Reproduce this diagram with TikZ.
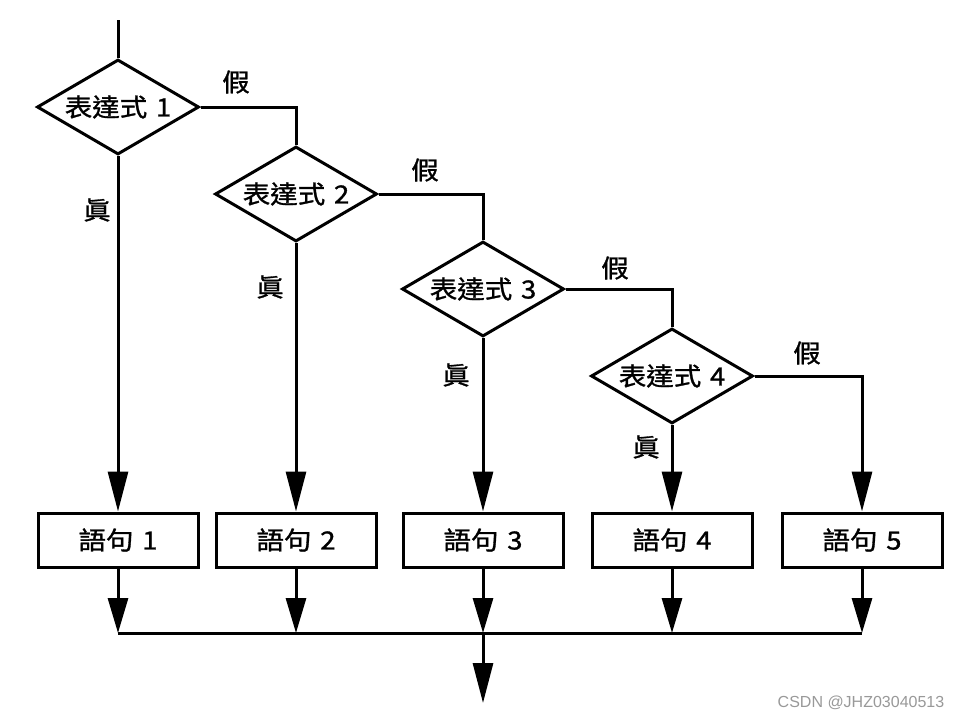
\documentclass[tikz,border=0pt]{standalone}
\usepackage{fontspec}
\setmainfont{Liberation Sans}
\newfontfamily\cjk[FakeStretch=1.1,FakeBold=1.2]{Noto Sans CJK TC}
\usetikzlibrary{shapes.geometric,arrows.meta}
\begin{document}
\begin{tikzpicture}[x=1pt,y=-1pt,
  line width=3pt,
  dec/.style={draw,shape=diamond,shape aspect=1.7,inner sep=0pt,minimum width=162pt,minimum height=95pt,font=\cjk\fontsize{25}{28}\selectfont},
  stmt/.style={draw,rectangle,inner sep=0pt,minimum width=160pt,minimum height=54pt,font=\cjk\fontsize{25}{28}\selectfont},
  lbl/.style={inner sep=0pt,font=\cjk\fontsize{25}{28}\selectfont},
  arr/.style={-{Triangle[length=40pt,width=20pt]}},
  sarr/.style={-{Triangle[length=35pt,width=20pt]}}]
\path[use as bounding box,fill=white] (0,0) rectangle (961,720);
\node[dec] (d1) at (118,107) {表達式\hspace{0.35em}1};
\node[dec] (d2) at (296,194) {表達式\hspace{0.35em}2};
\node[dec] (d3) at (483,289) {表達式\hspace{0.35em}3};
\node[dec] (d4) at (672,376) {表達式\hspace{0.35em}4};
\node[stmt] (b1) at (118,540) {語句\hspace{0.35em}1};
\node[stmt] (b2) at (296,540) {語句\hspace{0.35em}2};
\node[stmt] (b3) at (483,540) {語句\hspace{0.35em}3};
\node[stmt] (b4) at (672,540) {語句\hspace{0.35em}4};
\node[stmt] (b5) at (862,540) {語句\hspace{0.35em}5};
\coordinate (start) at (118,20);
\coordinate (k1) at (118,633);
\coordinate (k2) at (296,633);
\coordinate (k3) at (483,633);
\coordinate (k4) at (672,633);
\coordinate (k5) at (862,633);
\coordinate (end) at (483,703);
\node[lbl] (f1) at (236,82) {假};
\node[lbl] (f2) at (425,170) {假};
\node[lbl] (f3) at (615,268) {假};
\node[lbl] (f4) at (807,353) {假};
\node[lbl] (t1) at (97,210) {眞};
\node[lbl] (t2) at (270,287) {眞};
\node[lbl] (t3) at (456,375) {眞};
\node[lbl] (t4) at (646,447) {眞};
\draw (start) -- (d1.north);
\draw (d1.east) -| (d2.north);
\draw (d2.east) -| (d3.north);
\draw (d3.east) -| (d4.north);
\draw[arr] (d4.east) -| (b5.north);
\draw[arr] (d1.south) -- (b1.north);
\draw[arr] (d2.south) -- (b2.north);
\draw[arr] (d3.south) -- (b3.north);
\draw[arr] (d4.south) -- (b4.north);
\draw[sarr] (b1.south) -- (k1);
\draw[sarr] (b2.south) -- (k2);
\draw[sarr] (b3.south) -- (k3);
\draw[sarr] (b4.south) -- (k4);
\draw[sarr] (b5.south) -- (k5);
\draw (k1) -- (k5);
\draw[arr] (k3) -- (end);
\node[inner sep=0pt,text=black!40,font=\fontsize{16}{18}\selectfont] (wm) at (861,703) {CSDN @JHZ03040513};
\end{tikzpicture}
\end{document}
